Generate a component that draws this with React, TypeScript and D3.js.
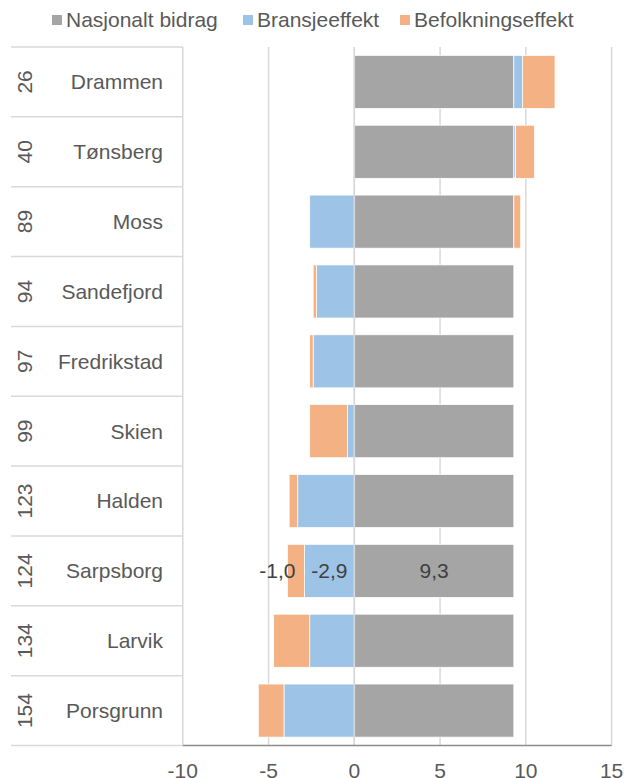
import React, { useRef, useEffect } from 'react'
import * as d3 from 'd3'

// Kategorier (rangering og by)
const ranks = ['26', '40', '89', '94', '97', '99', '123', '124', '134', '154']
const cities = ['Drammen', 'Tønsberg', 'Moss', 'Sandefjord', 'Fredrikstad', 'Skien', 'Halden', 'Sarpsborg', 'Larvik', 'Porsgrunn']

// Serier
const nasjonalt = [9.3, 9.3, 9.3, 9.3, 9.3, 9.3, 9.3, 9.3, 9.3, 9.3]
const bransje = [0.5, 0.1, -2.6, -2.2, -2.4, -0.4, -3.3, -2.9, -2.6, -4.1]
const befolkning = [1.9, 1.1, 0.4, -0.2, -0.2, -2.2, -0.5, -1.0, -2.1, -1.5]

const seriesNames = ['Nasjonalt bidrag', 'Bransjeeffekt', 'Befolkningseffekt']
const xTicks = [-10, -5, 0, 5, 10, 15]

const App = () => {
	const svgRef = useRef<SVGSVGElement>(null)

	useEffect(() => {
		const svg = d3.select(svgRef.current)
		svg.selectAll('*').remove()

		const width = 624
		const height = 778
		const font = 'Liberation Sans, Arial, sans-serif'
		const colors = ['#a5a5a5', '#9dc3e6', '#f4b183']
		const keys = ['nas', 'bra', 'bef']

		const rows = cities.map((c, i) => ({
			city: c,
			rank: ranks[i],
			nas: nasjonalt[i],
			bra: bransje[i],
			bef: befolkning[i],
		}))

		const x = d3.scaleLinear().domain([-10, 15]).range([182.8, 611.6])
		const y = d3.scaleBand().domain(cities).range([47, 745.5]).paddingInner(0.24).paddingOuter(0.12)
		const step = y.step()
		const top = 47
		const bottom = 745.5

		// Vertikale rutenett
		svg
			.append('g')
			.selectAll('line')
			.data(xTicks)
			.enter()
			.append('line')
			.attr('x1', d => x(d))
			.attr('x2', d => x(d))
			.attr('y1', top)
			.attr('y2', bottom)
			.attr('stroke', '#d9d9d9')
			.attr('stroke-width', 1.5)

		// Skillelinjer i kategoriaksen
		svg
			.append('g')
			.selectAll('line')
			.data(d3.range(cities.length + 1))
			.enter()
			.append('line')
			.attr('x1', 11)
			.attr('x2', x(-10))
			.attr('y1', d => top + d * step)
			.attr('y2', d => top + d * step)
			.attr('stroke', '#d9d9d9')
			.attr('stroke-width', 1.5)

		// Stablede søyler
		const stack = d3.stack<any>().keys(keys).offset(d3.stackOffsetDiverging)
		const series = stack(rows)

		svg
			.append('g')
			.selectAll('g')
			.data(series)
			.enter()
			.append('g')
			.attr('fill', (d, i) => colors[i])
			.selectAll('rect')
			.data(d => d)
			.enter()
			.append('rect')
			.attr('x', d => x(Math.min(d[0], d[1])))
			.attr('width', d => Math.abs(x(d[1]) - x(d[0])))
			.attr('y', d => y(d.data.city) as number)
			.attr('height', y.bandwidth())
			.attr('stroke', '#ffffff')
			.attr('stroke-width', 0.75)

		// Nulllinje
		svg
			.append('line')
			.attr('x1', x(0))
			.attr('x2', x(0))
			.attr('y1', top)
			.attr('y2', bottom)
			.attr('stroke', '#d9d9d9')
			.attr('stroke-width', 1.5)

		// X-akse
		svg
			.append('line')
			.attr('x1', x(-10))
			.attr('x2', x(15))
			.attr('y1', bottom)
			.attr('y2', bottom)
			.attr('stroke', '#8c8c8c')
			.attr('stroke-width', 1.5)

		svg
			.append('g')
			.selectAll('text')
			.data(xTicks)
			.enter()
			.append('text')
			.attr('x', d => x(d))
			.attr('y', 778)
			.attr('text-anchor', 'middle')
			.attr('font-family', font)
			.attr('font-size', 21)
			.attr('fill', '#595959')
			.text(d => String(d))

		// Kategorietiketter
		const labels = svg.append('g').attr('font-family', font).attr('font-size', 21).attr('fill', '#595959')
		rows.forEach(r => {
			const cy = (y(r.city) as number) + y.bandwidth() / 2
			labels
				.append('text')
				.attr('x', 163)
				.attr('y', cy)
				.attr('dy', '0.35em')
				.attr('text-anchor', 'end')
				.text(r.city)
			labels
				.append('text')
				.attr('transform', `translate(25,${cy}) rotate(-90)`)
				.attr('dy', '0.35em')
				.attr('text-anchor', 'middle')
				.text(r.rank)
		})

		// Dataetiketter for Sarpsborg
		const sIdx = cities.indexOf('Sarpsborg')
		const sy = (y('Sarpsborg') as number) + y.bandwidth() / 2
		const dl = svg.append('g').attr('font-family', font).attr('font-size', 21).attr('fill', '#404040').attr('text-anchor', 'middle')
		const fmt = (v: number) => v.toFixed(1).replace('.', ',')
		dl.append('text').attr('x', x(nasjonalt[sIdx] / 2)).attr('y', sy).attr('dy', '0.35em').text(fmt(nasjonalt[sIdx]))
		dl.append('text').attr('x', x(bransje[sIdx] / 2)).attr('y', sy).attr('dy', '0.35em').text(fmt(bransje[sIdx]))
		dl.append('text')
			.attr('x', x(bransje[sIdx] + befolkning[sIdx]) - 10)
			.attr('y', sy)
			.attr('dy', '0.35em')
			.text(fmt(befolkning[sIdx]))

		// Tegnforklaring
		const legendX = [52, 243, 400]
		const legend = svg.append('g').attr('font-family', font).attr('font-size', 21).attr('fill', '#595959')
		seriesNames.forEach((name, i) => {
			legend.append('rect').attr('x', legendX[i]).attr('y', 15).attr('width', 10).attr('height', 10).attr('fill', colors[i])
			legend
				.append('text')
				.attr('x', legendX[i] + 14)
				.attr('y', 20)
				.attr('dy', '0.35em')
				.text(name)
		})

		svg.attr('width', width).attr('height', height)
	}, [])

	return <svg ref={svgRef} style={{ position: 'absolute', left: 0, top: 0, background: '#fff' }}></svg>
}

export default App
